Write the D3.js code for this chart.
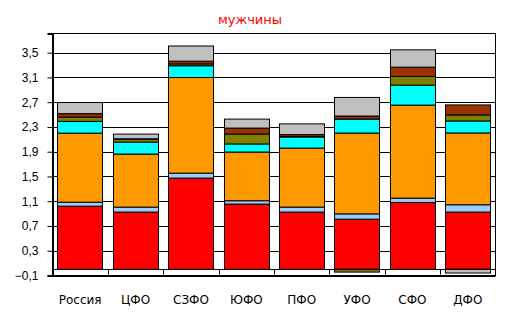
<!DOCTYPE html>
<html>
<head>
<meta charset="utf-8">
<title>мужчины</title>
<script src="https://cdn.jsdelivr.net/npm/d3@7"></script>
<style>
    body { margin: 0; background: white; }
    svg { font-family: "DejaVu Sans", Verdana, sans-serif; }
    .tick text { font-size: 12px; fill: black; }
</style>
</head>
<body>
<div id="chart"></div>
<script>
    // categories and series, bottom to top of each bar
    var regions = ['Россия', 'ЦФО', 'СЗФО', 'ЮФО', 'ПФО', 'УФО', 'СФО', 'ДФО'];
    var s1 = [1.02, 0.925, 1.474, 1.054, 0.925, 0.81, 1.08, 0.925];
    var s2 = [0.065, 0.08, 0.08, 0.054, 0.08, 0.086, 0.07, 0.118];
    var s3 = [1.115, 0.857, 1.545, 0.787, 0.954, 1.305, 1.503, 1.16];
    var s4 = [0.19, 0.194, 0.19, 0.13, 0.178, 0.226, 0.323, 0.194];
    var s5 = [0.07, 0.048, 0.03, 0.16, 0.01, -0.045, 0.14, 0.097];
    var s6 = [0.055, 0.005, 0.044, 0.097, 0.03, 0.05, 0.15, 0.162];
    var s7 = [0.18, 0.076, 0.245, 0.145, 0.173, 0.30, 0.28, -0.06];
    var yTicks = [-0.1, 0.3, 0.7, 1.1, 1.5, 1.9, 2.3, 2.7, 3.1, 3.5];

    var series = [s1, s2, s3, s4, s5, s6, s7];
    var colors = ['#ff0000', '#99ccff', '#ff9900', '#00ffff', '#808000', '#993300', '#c0c0c0'];
    var keys = series.map(function(d, i) { return 's' + i; });

    var rows = regions.map(function(r, j) {
        var o = { region: r };
        series.forEach(function(s, i) { o['s' + i] = s[j]; });
        return o;
    });

    var W = 510, H = 329;
    var pL = 52.5, pR = 495.5, pT = 33.5, pB = 275.5;

    var svg = d3.select('#chart')
            .append('svg')
            .attr('width', W)
            .attr('height', H);

    var x = d3.scaleBand()
            .domain(regions)
            .range([pL, pR])
            .paddingInner(0.18)
            .paddingOuter(0.09);

    var y = d3.scaleLinear()
            .domain([-0.1, 3.81])
            .range([pB, pT]);

    // gridlines
    svg.append('g')
        .selectAll('line')
        .data(yTicks)
        .join('line')
            .attr('x1', pL)
            .attr('x2', pR)
            .attr('y1', function(d) { return Math.round(y(d)) + 0.5; })
            .attr('y2', function(d) { return Math.round(y(d)) + 0.5; })
            .attr('stroke', 'black');

    // frame
    svg.append('rect')
        .attr('x', pL)
        .attr('y', pT)
        .attr('width', pR - pL)
        .attr('height', pB - pT)
        .attr('fill', 'none')
        .attr('stroke', 'black');

    var stack = d3.stack()
            .keys(keys)
            .offset(d3.stackOffsetDiverging);

    svg.append('g')
        .selectAll('g')
        .data(stack(rows))
        .join('g')
            .attr('fill', function(d, i) { return colors[i]; })
        .selectAll('rect')
        .data(function(d) { return d; })
        .join('rect')
            .attr('x', function(d) { return Math.round(x(d.data.region)) + 0.5; })
            .attr('width', Math.round(x.bandwidth()))
            .attr('y', function(d) { return y(Math.max(d[0], d[1])); })
            .attr('height', function(d) { return Math.abs(y(d[0]) - y(d[1])); })
            .attr('stroke', 'black')
            .attr('stroke-width', 1)
            .attr('stroke-opacity', function(d) { return d[0] === d[1] ? 0 : 1; });

    // category axis at zero
    var y0 = Math.round(y(0)) + 0.5;
    svg.append('line')
        .attr('x1', pL).attr('x2', pR)
        .attr('y1', y0).attr('y2', y0)
        .attr('stroke', 'black');

    svg.append('g')
        .selectAll('line')
        .data(regions.slice(1))
        .join('line')
            .attr('x1', function(d) { return Math.round(x(d) - x.step() * x.paddingInner() / 2) + 0.5; })
            .attr('x2', function(d) { return Math.round(x(d) - x.step() * x.paddingInner() / 2) + 0.5; })
            .attr('y1', y0)
            .attr('y2', y0 + 5)
            .attr('stroke', 'black');

    // value axis
    var yAxis = svg.append('g')
            .attr('transform', 'translate(' + pL + ',0)')
            .call(d3.axisLeft(y)
                .tickValues(yTicks)
                .tickSize(5)
                .tickPadding(9)
                .tickFormat(function(d) { return d3.format('.1f')(d).replace('.', ','); }));
    yAxis.select('.domain').attr('stroke-width', 2);

    // category labels
    svg.append('g')
        .selectAll('text')
        .data(regions)
        .join('text')
            .attr('x', function(d) { return x(d) + x.bandwidth() / 2; })
            .attr('y', 304)
            .attr('text-anchor', 'middle')
            .style('font-size', '12px')
            .text(function(d) { return d; });

    svg.append('text')
        .attr('x', 250)
        .attr('y', 24)
        .attr('text-anchor', 'middle')
        .attr('fill', 'red')
        .style('font-size', '13px')
        .text('мужчины');
</script>
</body>
</html>
